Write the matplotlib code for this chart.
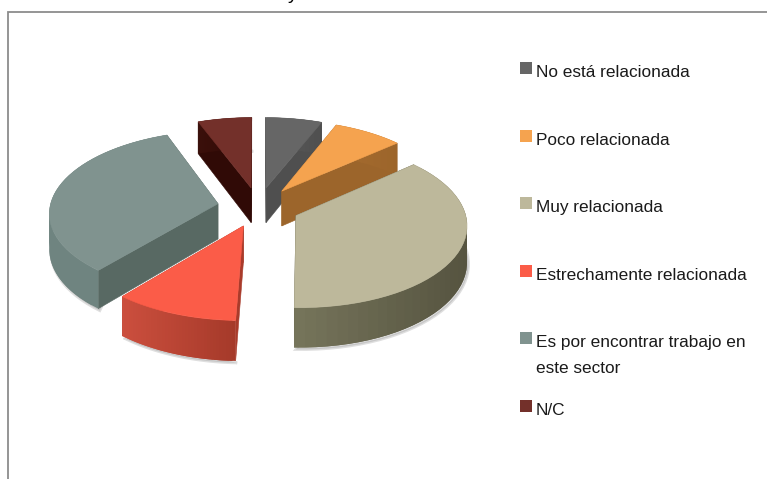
import numpy as np
import matplotlib
matplotlib.use('Agg')
import matplotlib.pyplot as plt
from matplotlib.patches import Polygon, Rectangle

plt.rcParams['font.family'] = ['Liberation Sans', 'DejaVu Sans']

# datos (porcentajes)
labels = ['No está relacionada', 'Poco relacionada', 'Muy relacionada',
          'Estrechamente relacionada', 'Es por encontrar trabajo en\neste sector', 'N/C']
values = [6.1, 7.5, 36.9, 10.6, 33.1, 5.8]

top_colors = ['#666666', '#F5A34F', '#BDB89B', '#FB5C48', '#80938F', '#73302A']
cut_colors = ['#4F4F4F', '#9C652B', '#5A5842', '#A93B2B', '#586963', '#300A06']
rim_left = ['#5A5A5A', '#A56B2E', '#77765C', '#CC4F3E', '#6F8480', '#3A0F0A']
rim_right = ['#4F4F4F', '#9C652B', '#565440', '#A63A2A', '#6F8480', '#300A06']

explode = 0.245
cx, cy = 258.4, 207
rx, ry = 168, 81
persp = 0.10
depth = 35.5


def project(u, v, drop=0.0):
    w = 1 + persp * v
    return cx + rx * u / w, cy - ry * v / w + drop / w


def rim_points(ax0, ay0, t):
    return ax0 + np.sin(t), ay0 + np.cos(t)


fig, ax = plt.subplots(figsize=(7.67, 4.79), dpi=100)
ax.set_position([0, 0, 1, 1])
ax.set_xlim(0, 767)
ax.set_ylim(479, 0)
ax.axis('off')

# marco
ax.plot([8, 8, 767], [479, 12, 12], color='#8C8C8C', lw=1.3, zorder=1, solid_joinstyle='miter')
# resto del titulo, cortado por arriba en el original
ax.text(293, -1.5, 'y', fontsize=14, ha='center', va='baseline', color='black', zorder=1)

edges = np.cumsum([0] + values) / sum(values) * 2 * np.pi
order = [0, 5, 1, 4, 2, 3]

for z, i in enumerate(order):
    t0, t1 = edges[i], edges[i + 1]
    mid = (t0 + t1) / 2
    au, av = explode * np.sin(mid), explode * np.cos(mid)
    ts = np.linspace(t0, t1, 41)
    ru, rv = rim_points(au, av, ts)
    base = 10 + z * 5

    # sombra suave
    sx, sy = project(ru, rv, depth)
    ax.add_patch(Polygon(np.column_stack([sx + 1.5, sy + 2]), closed=True, fc='#808080',
                         ec='#808080', lw=2, alpha=0.25, zorder=base))

    # caras de corte
    for t in (t0, t1):
        eu, ev = rim_points(au, av, t)
        pts = [project(au, av), project(eu, ev), project(eu, ev, depth), project(au, av, depth)]
        ax.add_patch(Polygon(pts, closed=True, fc=cut_colors[i], ec=cut_colors[i], lw=0.4, zorder=base + 1))

    # pared exterior, por tramos solapados para el degradado
    xa, ya = project(ru, rv)
    xb, yb = project(ru, rv, depth)
    c0 = np.array(matplotlib.colors.to_rgb(rim_left[i]))
    c1 = np.array(matplotlib.colors.to_rgb(rim_right[i]))
    xmin, xmax = xa.min(), xa.max()
    for k in range(len(ts) - 1):
        n = min(k + 3, len(ts))
        f = (xa[k] - xmin) / max(xmax - xmin, 1)
        col = c0 + (c1 - c0) * f
        quad = np.r_[np.column_stack([xa[k:n], ya[k:n]]), np.column_stack([xb[k:n], yb[k:n]])[::-1]]
        ax.add_patch(Polygon(quad, closed=True, fc=col, ec='none', zorder=base + 2))

    # cara superior
    px, py = project(np.r_[au, ru], np.r_[av, rv])
    ax.add_patch(Polygon(np.column_stack([px, py]), closed=True, fc=top_colors[i],
                         ec=top_colors[i], lw=0.4, zorder=base + 3))

# leyenda
for i, lab in enumerate(labels):
    ym = 68 + i * 67.6
    ax.add_patch(Rectangle((520, ym - 6), 12, 12, fc=top_colors[i], ec='none', zorder=60))
    ax.text(535.5, ym - 3.0, lab, fontsize=12.4, color='#1A1A1A', ha='left', va='top',
            linespacing=1.85, zorder=60)

fig.savefig('out.png', dpi=100)
